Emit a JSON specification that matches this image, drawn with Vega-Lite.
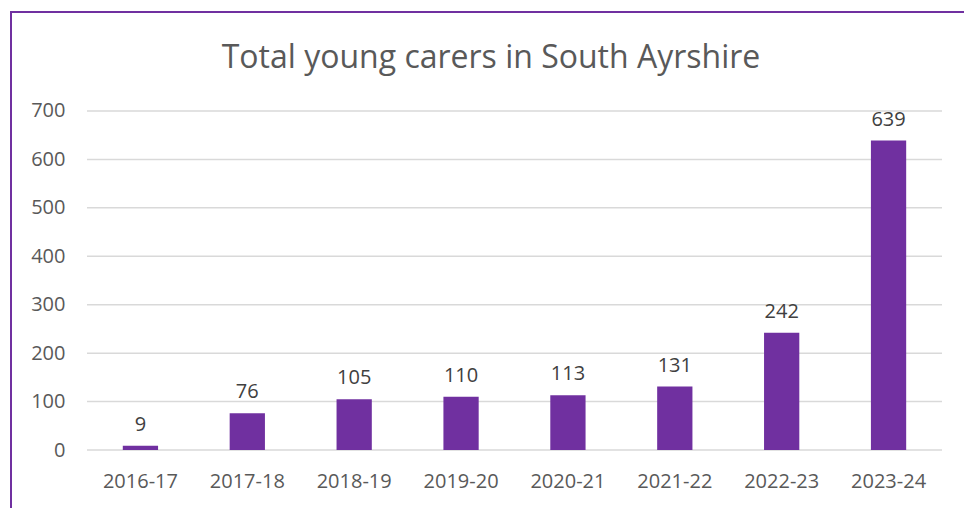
{
  "$schema": "https://vega.github.io/schema/vega-lite/v6.json",
  "autosize": "none",
  "width": 990,
  "height": 510,
  "padding": {"left": 11, "top": 12, "right": 0, "bottom": 0},
  "background": "white",
  "title": {
    "text": "Total young carers in South Ayrshire",
    "font": "Open Sans",
    "fontSize": 32,
    "fontWeight": "normal",
    "color": "#595959",
    "anchor": "middle",
    "frame": "group",
    "baseline": "alphabetic",
    "dx": -15,
    "offset": -88
  },
  "datasets": {
    "carers": [
      {"year": "2016-17", "carers": 9},
      {"year": "2017-18", "carers": 76},
      {"year": "2018-19", "carers": 105},
      {"year": "2019-20", "carers": 110},
      {"year": "2020-21", "carers": 113},
      {"year": "2021-22", "carers": 131},
      {"year": "2022-23", "carers": 242},
      {"year": "2023-24", "carers": 639}
    ],
    "grid": [
      {"value": 0, "first": "2016-17", "last": "2023-24"},
      {"value": 100, "first": "2016-17", "last": "2023-24"},
      {"value": 200, "first": "2016-17", "last": "2023-24"},
      {"value": 300, "first": "2016-17", "last": "2023-24"},
      {"value": 400, "first": "2016-17", "last": "2023-24"},
      {"value": 500, "first": "2016-17", "last": "2023-24"},
      {"value": 600, "first": "2016-17", "last": "2023-24"},
      {"value": 700, "first": "2016-17", "last": "2023-24"}
    ]
  },
  "layer": [
    {
      "data": {"name": "grid"},
      "mark": {"type": "rule", "color": "#d9d9d9", "strokeWidth": 1.5},
      "encoding": {
        "x": {"field": "first", "type": "ordinal", "bandPosition": -1.015},
        "x2": {"field": "last", "bandPosition": 2.016},
        "y": {"field": "value", "type": "quantitative"}
      }
    },
    {
      "data": {"name": "carers"},
      "mark": {"type": "bar", "color": "#7030A0"},
      "encoding": {
        "x": {"field": "year", "type": "ordinal"},
        "y": {"field": "carers", "type": "quantitative"}
      }
    },
    {
      "data": {"name": "carers"},
      "mark": {"type": "text", "dy": -21, "font": "Open Sans", "fontSize": 20, "color": "#404040"},
      "encoding": {
        "x": {"field": "year", "type": "ordinal"},
        "y": {"field": "carers", "type": "quantitative"},
        "text": {"field": "carers", "type": "quantitative"}
      }
    }
  ],
  "encoding": {
    "x": {
      "type": "ordinal",
      "scale": {
        "domain": ["2016-17", "2017-18", "2018-19", "2019-20", "2020-21", "2021-22", "2022-23", "2023-24"],
        "paddingInner": 0.67,
        "paddingOuter": 0.9666,
        "align": 0.5411
      },
      "axis": {
        "title": null,
        "labelAngle": 0,
        "labelFont": "Open Sans",
        "labelFontSize": 20,
        "labelColor": "#595959",
        "labelPadding": 21,
        "ticks": false,
        "domain": false,
        "grid": false,
        "offset": -72
      }
    },
    "y": {
      "type": "quantitative",
      "scale": {"domain": [-148.67, 904.42], "nice": false, "zero": false},
      "axis": {
        "title": null,
        "values": [0, 100, 200, 300, 400, 500, 600, 700],
        "labelFont": "Open Sans",
        "labelFontSize": 20,
        "labelColor": "#595959",
        "labelPadding": 22,
        "ticks": false,
        "domain": false,
        "grid": false,
        "offset": -76
      }
    }
  },
  "config": {"view": {"stroke": "#7030A0", "strokeWidth": 2}}
}
